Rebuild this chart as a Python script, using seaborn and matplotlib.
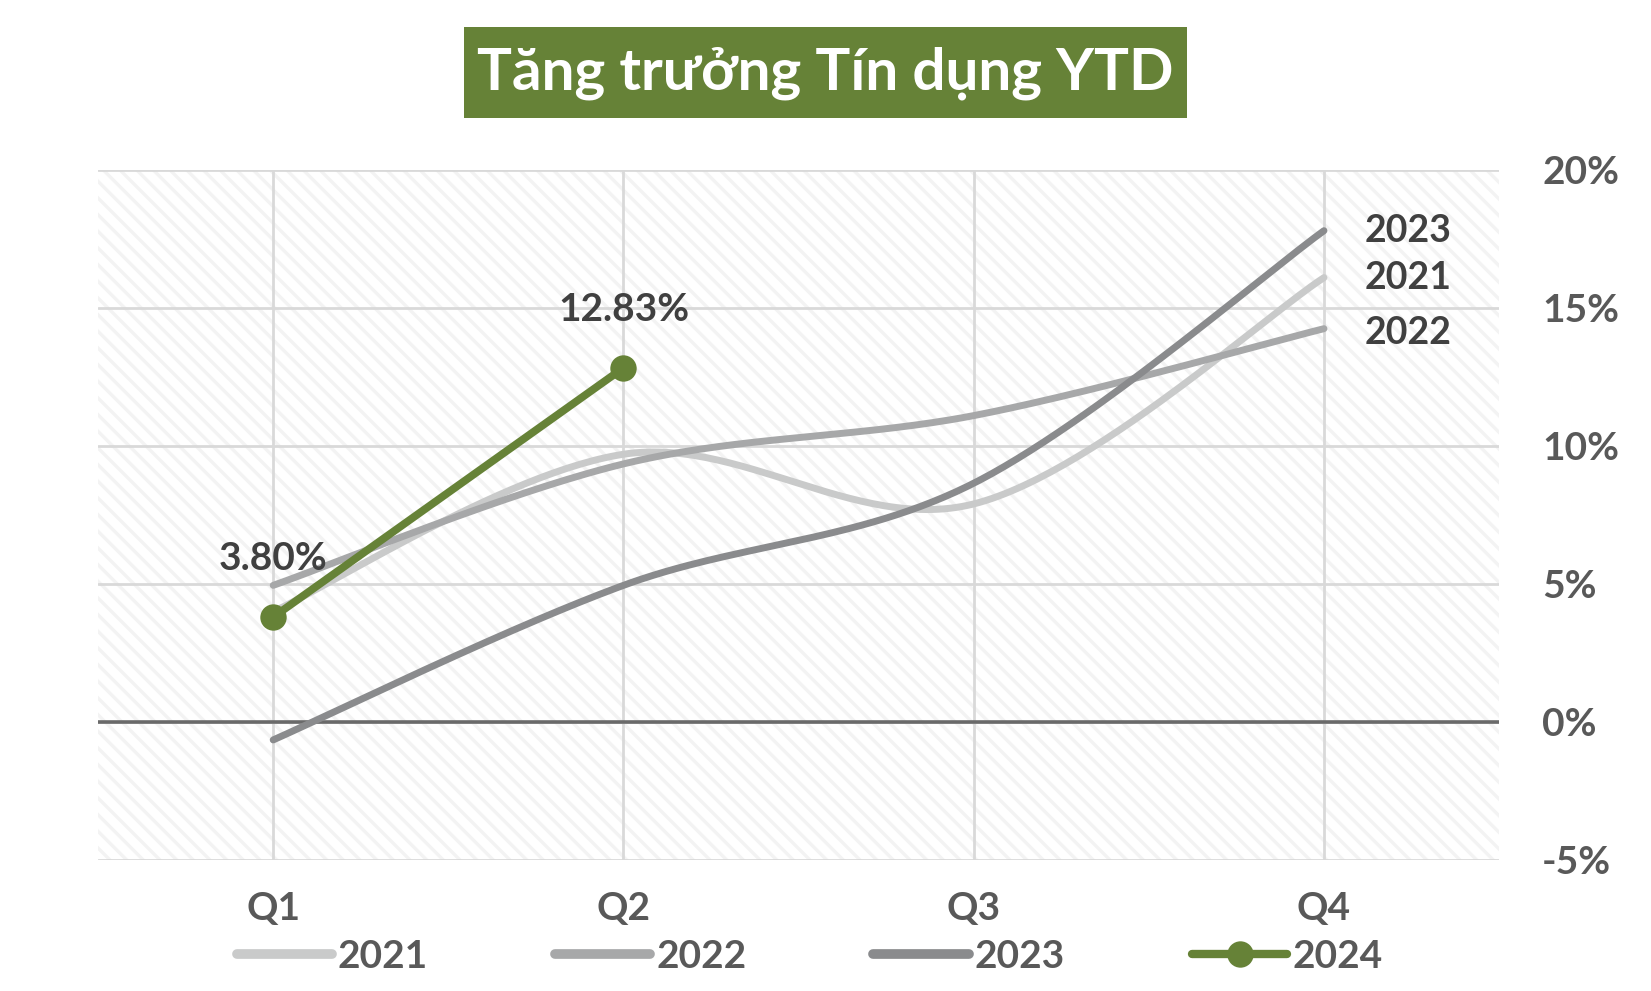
import numpy as np
import pandas as pd
import matplotlib
matplotlib.use("Agg")
import matplotlib.pyplot as plt
import seaborn as sns
from matplotlib.patches import Rectangle
from matplotlib.lines import Line2D

# ---------------- data ----------------
quarters = ["Q1", "Q2", "Q3", "Q4"]
y2021 = [4.0, 9.7, 7.9, 16.1]
y2022 = [4.95, 9.35, 11.1, 14.25]
y2023 = [-0.65, 4.95, 8.65, 17.8]
y2024 = [3.80, 12.83]
labels_2024 = ["3.80%", "12.83%"]
series_names = ["2021", "2022", "2023", "2024"]
yticks = [-5, 0, 5, 10, 15, 20]
ytick_labels = ["-5%", "0%", "5%", "10%", "15%", "20%"]
title = "Tăng trưởng Tín dụng YTD"

colors = {"2021": "#C9CACA", "2022": "#A7A8A9", "2023": "#8A8B8D", "2024": "#668237"}


def excel_smooth(xs, ys, n=60):
    """Bezier smoothing like Excel's 'smoothed line' (Catmull-Rom style)."""
    xs = np.asarray(xs, float)
    ys = np.asarray(ys, float)
    px = np.concatenate([[xs[0]], xs, [xs[-1]]])
    py = np.concatenate([[ys[0]], ys, [ys[-1]]])
    ox, oy = [], []
    t = np.linspace(0, 1, n)
    for i in range(1, len(px) - 2):
        p0 = np.array([px[i - 1], py[i - 1]])
        p1 = np.array([px[i], py[i]])
        p2 = np.array([px[i + 1], py[i + 1]])
        p3 = np.array([px[i + 2], py[i + 2]])
        c1 = p1 + (p2 - p0) / 6.0
        c2 = p2 - (p3 - p1) / 6.0
        b = ((1 - t) ** 3)[:, None] * p1 + (3 * (1 - t) ** 2 * t)[:, None] * c1 \
            + (3 * (1 - t) * t ** 2)[:, None] * c2 + (t ** 3)[:, None] * p2
        if i > 1:
            b = b[1:]
        ox.extend(b[:, 0])
        oy.extend(b[:, 1])
    return np.array(ox), np.array(oy)


sns.set_theme(style="white")
plt.rcParams["font.family"] = ["Lato", "DejaVu Sans"]
plt.rcParams["hatch.linewidth"] = 2.4

fig = plt.figure(figsize=(16.51, 9.91), dpi=100)
ax = fig.add_axes([0.0594, 0.1322, 0.8486, 0.6963])

# hatched background
ax.patch.set_facecolor("white")
ax.add_patch(Rectangle((0, 0), 1, 1, transform=ax.transAxes, facecolor="white",
                       edgecolor="#F3F3F3", hatch="\\\\", linewidth=0, zorder=0))

xpos = np.arange(len(quarters))
for name, vals in zip(["2021", "2022", "2023"], [y2021, y2022, y2023]):
    sx, sy = excel_smooth(xpos, vals)
    df = pd.DataFrame({"x": sx, "y": sy})
    sns.lineplot(data=df, x="x", y="y", ax=ax, color=colors[name], linewidth=5.0,
                 sort=False, estimator=None, solid_capstyle="round", zorder=3)

df24 = pd.DataFrame({"x": xpos[:len(y2024)], "y": y2024})
sns.lineplot(data=df24, x="x", y="y", ax=ax, color=colors["2024"], linewidth=5.6,
             marker="o", markersize=19, markeredgewidth=0, sort=False,
             estimator=None, solid_capstyle="round", zorder=5)

# data labels for 2024
for xi, yi, lab in zip(xpos[:len(y2024)], y2024, labels_2024):
    ax.annotate(lab, (xi, yi), xytext=(0, 42), textcoords="offset points",
                ha="center", va="center", fontsize=28, fontweight="bold",
                color="#404040", zorder=6)

# end labels for previous years
for name, vals in zip(["2023", "2021", "2022"], [y2023, y2021, y2022]):
    ax.text(3.117, vals[-1] - (0.15 if name == "2022" else 0), name, ha="left",
            va="center", fontsize=27, fontweight="bold", color="#404040", zorder=6)

# axes styling
ax.set_xlim(-0.5, 3.5)
ax.set_ylim(-5, 20)
ax.set_xticks(xpos)
ax.set_xticklabels(quarters)
ax.set_yticks(yticks)
ax.set_yticklabels(ytick_labels)
ax.yaxis.tick_right()
ax.tick_params(axis="y", length=0, pad=31, labelsize=28, labelcolor="#595959")
ax.tick_params(axis="x", length=0, pad=22, labelsize=28, labelcolor="#595959")
for lab in ax.get_xticklabels() + ax.get_yticklabels():
    lab.set_fontweight("bold")
ax.set_xlabel("")
ax.set_ylabel("")
for s in ax.spines.values():
    s.set_visible(False)
ax.grid(True, color="#D9D9D9", linewidth=2.0, zorder=1)
ax.set_axisbelow(True)
for gl in ax.get_xgridlines() + ax.get_ygridlines():
    gl.set_zorder(1)
ax.axhline(0, color="#6A6A6A", linewidth=2.6, zorder=2)

# title box
fig.add_artist(Rectangle((0.281, 0.881), 0.438, 0.0918, transform=fig.transFigure,
                         facecolor="#668237", edgecolor="none"))
fig.text(0.5, 0.9265, title, ha="center", va="center", fontsize=42,
         fontweight="bold", color="white")

# legend
handles = [Line2D([0], [0], color=colors["2021"], linewidth=7, solid_capstyle="round"),
           Line2D([0], [0], color=colors["2022"], linewidth=7, solid_capstyle="round"),
           Line2D([0], [0], color=colors["2023"], linewidth=7, solid_capstyle="round"),
           Line2D([0], [0], color=colors["2024"], linewidth=6, marker="o",
                  markersize=19, markeredgewidth=0)]
leg = fig.legend(handles, series_names, loc="center", bbox_to_anchor=(0.4905, 0.035),
                 ncol=4, frameon=False, handlelength=2.45, handletextpad=0.15,
                 columnspacing=3.27, borderpad=0,
                 prop={"size": 28, "weight": "bold"})
for t in leg.get_texts():
    t.set_color("#595959")

fig.savefig("out.png", dpi=100)
